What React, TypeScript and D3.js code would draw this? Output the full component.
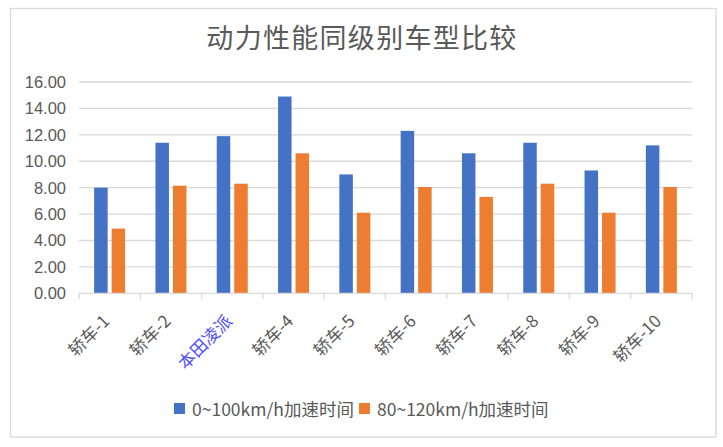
import React from "react";
import * as d3 from "d3";

const title = "动力性能同级别车型比较";
const categories = ["轿车-1", "轿车-2", "本田凌派", "轿车-4", "轿车-5", "轿车-6", "轿车-7", "轿车-8", "轿车-9", "轿车-10"];
const highlighted = ["本田凌派"];
const seriesNames = ["0~100km/h加速时间", "80~120km/h加速时间"];
const accel0to100 = [8.0, 11.4, 11.9, 14.9, 9.0, 12.3, 10.6, 11.4, 9.3, 11.2];
const accel80to120 = [4.9, 8.15, 8.3, 10.6, 6.1, 8.05, 7.3, 8.3, 6.1, 8.05];
const yTicks = [0, 2, 4, 6, 8, 10, 12, 14, 16];
const colors = ["#4472C4", "#ED7D31"];

const W = 723;
const H = 447;
const plot = { left: 79, right: 692, top: 82, bottom: 293.3 };
const GRID = "#d9d9d9";
const TEXT = "#595959";
const CJK = "'Noto Sans CJK SC', 'Noto Sans', sans-serif";
const LATIN = "'Liberation Sans', 'Noto Sans CJK SC', sans-serif";

export default function App() {
  const series = [accel0to100, accel80to120];
  const x = d3.scaleBand<string>().domain(categories).range([plot.left, plot.right]).paddingInner(0).paddingOuter(0);
  const groupW = 31;
  const inner = d3.scaleBand<string>().domain(seriesNames).range([0, groupW]).paddingInner(4 / 17.5).paddingOuter(0);
  const y = d3.scaleLinear().domain([0, 16]).range([plot.bottom, plot.top]);
  const fmt = d3.format(".2f");
  const step = x.step();

  const legendY = 408.5;
  const legendItems = [
    { sq: 174, tx: 192 },
    { sq: 359, tx: 377 },
  ];

  return (
    <svg width={W} height={H} style={{ position: "absolute", left: 0, top: 0, background: "#fff" }}>
      <rect x={0} y={0} width={W} height={H} fill="#fff" />
      <rect x={10.5} y={8.5} width={705.5} height={428.5} fill="#fff" stroke={GRID} strokeWidth={1.3} />
      <text x={362} y={36} textAnchor="middle" dominantBaseline="central" fill={TEXT} fontFamily={CJK} fontSize={27} letterSpacing={1.3}>
        {title}
      </text>
      {yTicks.map((t) => (
        <g key={t}>
          {t > 0 && <line x1={plot.left} x2={plot.right} y1={y(t)} y2={y(t)} stroke={GRID} strokeWidth={1.3} />}
          <text x={66} y={y(t)} textAnchor="end" dominantBaseline="central" fill={TEXT} fontFamily={LATIN} fontSize={16.5}>
            {fmt(t)}
          </text>
        </g>
      ))}
      {categories.map((c, i) => {
        const cx = (x(c) as number) + step / 2;
        return (
          <g key={c}>
            {series.map((vals, s) => (
              <rect
                key={s}
                x={cx - groupW / 2 + (inner(seriesNames[s]) as number)}
                y={y(vals[i])}
                width={inner.bandwidth()}
                height={y(0) - y(vals[i])}
                fill={colors[s]}
              />
            ))}
          </g>
        );
      })}
      <line x1={plot.left} x2={plot.right} y1={plot.bottom} y2={plot.bottom} stroke={GRID} strokeWidth={1.3} />
      {d3.range(categories.length + 1).map((k) => {
        const tx = plot.left + k * step;
        return <line key={k} x1={tx} x2={tx} y1={plot.bottom} y2={plot.bottom + 6} stroke={GRID} strokeWidth={1.3} />;
      })}
      {categories.map((c) => {
        const cx = (x(c) as number) + step / 2;
        const ax = cx + 1;
        const ay = plot.bottom + 29;
        const hl = highlighted.includes(c);
        return (
          <text
            key={c}
            x={ax}
            y={ay}
            transform={`rotate(-45 ${ax} ${ay})`}
            textAnchor="end"
            fill={hl ? "#4d4dff" : TEXT}
            fontFamily={CJK}
            fontSize={17}
          >
            {c}
          </text>
        );
      })}
      {seriesNames.map((n, s) => (
        <g key={n}>
          <rect x={legendItems[s].sq} y={legendY - 5.5} width={11} height={11} fill={colors[s]} />
          <text x={legendItems[s].tx} y={legendY} dominantBaseline="central" fill={TEXT} fontFamily={CJK} fontSize={17.5}>
            {n}
          </text>
        </g>
      ))}
    </svg>
  );
}
